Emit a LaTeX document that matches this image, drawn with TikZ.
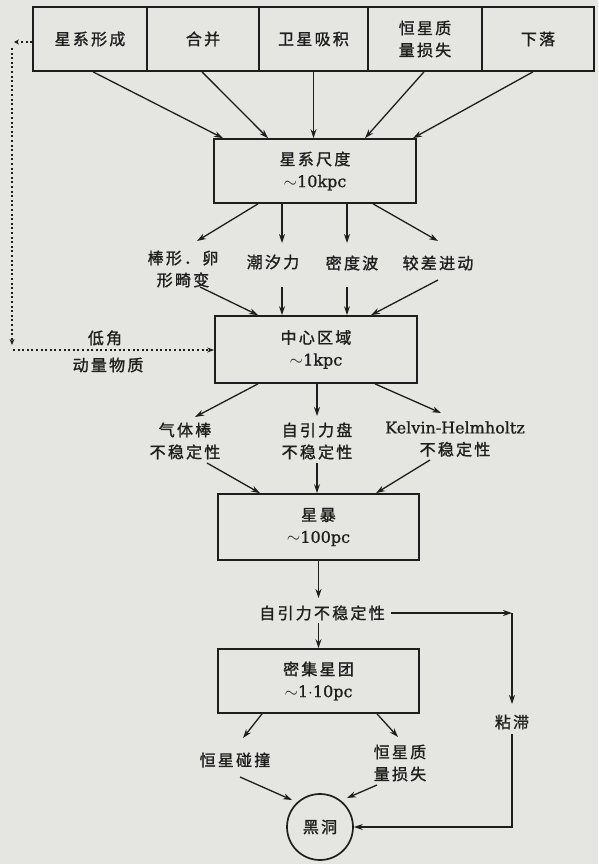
\documentclass[tikz,border=0pt]{standalone}
\usepackage{fontspec}
\usetikzlibrary{arrows.meta,calc}
\newfontfamily\cjk[LetterSpace=14,FakeBold=1.3]{Noto Sans CJK SC}
\newfontfamily\lat[FakeBold=1.0]{DejaVu Serif}
\newcommand\ltn{\lat\fontsize{16}{22}\selectfont}
\definecolor{paper}{RGB}{229,229,225}
\definecolor{ink}{RGB}{30,30,30}
\begin{document}
\begin{tikzpicture}[x=1pt,y=-1pt,
  txt/.style={inner sep=0pt, align=center, text=ink, font=\cjk\fontsize{16}{22}\selectfont},
  box/.style={txt, draw=ink, line width=1.7pt},
  arr/.style={draw=ink, line width=1.3pt, -{Stealth[length=9pt,width=6pt]}},
  dots/.style={draw=ink, line width=1.8pt, dash pattern=on 2pt off 2.6pt}]
\fill[paper] (0,0) rectangle (598,864);
\useasboundingbox (0,0) rectangle (598,864);

% top row
\node[box, minimum width=114pt, minimum height=64pt] (t1) at (90,39) {星系形成};
\node[box, minimum width=112pt, minimum height=64pt] (t2) at (203,39) {合并};
\node[box, minimum width=109pt, minimum height=64pt] (t3) at (313.5,39) {卫星吸积};
\node[box, minimum width=114pt, minimum height=64pt] (t4) at (425,39) {恒星质\\量损失};
\node[box, minimum width=112pt, minimum height=64pt] (t5) at (538,39) {下落};

% galaxy scale
\node[box, minimum width=202pt, minimum height=64pt] (b2) at (315,171) {星系尺度\\{\ltn$\sim$10kpc}};
\draw[arr] ($(t1.south)+(3,0)$) -- ($(b2.north)+(-92,0)$);
\draw[arr] ($(t2.south)+(-1,0)$) -- ($(b2.north)+(-47,0)$);
\draw[arr] ($(t3.south)+(0,0)$) -- ($(b2.north)+(-1.5,0)$);
\draw[arr] ($(t4.south)+(-1,0)$) -- ($(b2.north)+(50,0)$);
\draw[arr] ($(t5.south)+(-5,0)$) -- ($(b2.north)+(98,0)$);

% level 1 labels
\node[txt] (l1) at (183,269) {棒形．卵\\形畸变};
\node[txt] (l2) at (273,262) {潮汐力};
\node[txt] (l3) at (352,263) {密度波};
\node[txt] (l4) at (438,263) {较差进动};

% central region
\node[box, minimum width=202pt, minimum height=67pt] (b3) at (316,349.5) {中心区域\\{\ltn$\sim$1kpc}};

\draw[arr] ($(b2.south)+(-57,0)$) -- ($(l1.center)+(14,-28)$);
\draw[arr] ($(b2.south)+(-33,0)$) -- ($(l2.center)+(9,-19)$);
\draw[arr] ($(b2.south)+(32,0)$) -- ($(l3.center)+(-5,-20)$);
\draw[arr] ($(b2.south)+(58,0)$) -- ($(l4.center)+(0,-22)$);

\draw[arr] ($(l1.center)+(17,18)$) -- ($(b3.north)+(-58,0)$);
\draw[arr] ($(l2.center)+(9,25)$) -- ($(b3.north)+(-34,0)$);
\draw[arr] ($(l3.center)+(-5,24)$) -- ($(b3.north)+(31,0)$);
\draw[arr] ($(l4.center)+(0,17)$) -- ($(b3.north)+(55,0)$);

% dotted feedback
\coordinate (dA) at (14,42);
\coordinate (dB) at (12,48);
\coordinate (dC) at (12,345);
\coordinate (dD) at (13,350);
\draw[dots, -{Stealth[length=5pt,width=5pt]}] ($(t1.west)+(0,3)$) -- (dA);
\draw[dots, -{Stealth[length=6pt,width=5pt]}] (dB) -- (dC);
\draw[dots, -{Stealth[length=7pt,width=5pt]}] (dD) -- (b3.west |- dD);
\node[txt] (la1) at (105,338) {低角};
\node[txt] (la2) at (108,365) {动量物质};

% level 2 labels
\node[txt] (m1) at (185,441) {气体棒\\不稳定性};
\node[txt] (m2) at (317,441) {自引力盘\\不稳定性};
\node[txt] (m3) at (455,439) {{\ltn Kelvin-Helmholtz}\\不稳定性};

% starburst
\node[box, minimum width=201pt, minimum height=66pt] (b4) at (318.5,527) {星\,暴\\{\ltn$\sim$100pc}};

\draw[arr] ($(b3.south)+(-58,0)$) -- ($(m1.center)+(10,-24)$);
\draw[arr] ($(b3.south)+(1,0)$) -- ($(m2.center)+(0,-25)$);
\draw[arr] ($(b3.south)+(59,0)$) -- ($(m3.center)+(-14,-26)$);

\draw[arr] ($(m1.center)+(22,22)$) -- ($(b4.north)+(-58.5,0)$);
\draw[arr] ($(m2.center)+(0,22)$) -- ($(b4.north)+(-1.5,0)$);
\draw[arr] ($(m3.center)+(-25,21)$) -- ($(b4.north)+(57.5,0)$);

% self-gravity instability
\node[txt] (s1) at (322,613) {自引力不稳定性};
\draw[arr] (b4.south) -- ($(s1.center)+(-3.5,-15)$);

% dense cluster
\node[box, minimum width=201pt, minimum height=64pt] (b5) at (318.5,681) {密集星团\\{\ltn$\sim$1$\cdot$10pc}};
\draw[arr] ($(s1.center)+(-3.5,10)$) -- (b5.north);

% viscosity branch
\coordinate (cR) at (512,613);
\node[txt] (nz) at (512,722) {粘滞};
\node[txt, draw=ink, line width=1.7pt, circle, minimum size=66pt] (bh) at (320,827) {黑洞};
\coordinate (cB) at (512,827);
\draw[arr] ($(s1.east)+(6,0)$) -- (cR);
\draw[arr] (cR) -- ($(nz.center)+(0,-18)$);
\draw[arr] ($(nz.center)+(0,12)$) -- (cB) -- (bh.east);

% collisions / mass loss
\node[txt] (p1) at (235,760) {恒星碰撞};
\node[txt] (p2) at (400,763) {恒星质\\量损失};
\draw[arr] ($(b5.south)+(-56.5,0)$) -- ($(p1.center)+(8,-22)$);
\draw[arr] ($(b5.south)+(58.5,0)$) -- ($(p2.center)+(-2,-26)$);
\draw[arr] ($(p1.center)+(5,17)$) -- ($(bh.center)+(-28,-27)$);
\draw[arr] ($(p2.center)+(-23,22)$) -- ($(bh.center)+(27,-29)$);
\end{tikzpicture}
\end{document}
